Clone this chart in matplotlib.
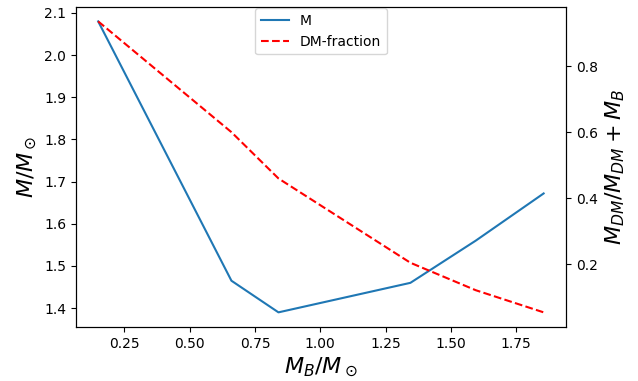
"""Mass and dark-matter fraction against baryonic mass."""

import matplotlib

matplotlib.use("Agg")
import matplotlib.pyplot as plt

mass_b = [0.15, 0.66, 0.84, 1.345, 1.595, 1.855]
mass_total = [2.08, 1.465, 1.39, 1.46, 1.56, 1.672]
dm_fraction = [0.935, 0.60, 0.46, 0.205, 0.122, 0.055]

fig, ax = plt.subplots(figsize=(6.38, 3.81), dpi=100)

line_m, = ax.plot(mass_b, mass_total, color="tab:blue", label="M")
ax.set_xlabel(r"$M_B/M_\odot$", fontsize=16)
ax.set_ylabel(r"$M/M_\odot$", fontsize=16)

ax2 = ax.twinx()
line_dm, = ax2.plot(mass_b, dm_fraction, "r--", label="DM-fraction")
ax2.set_ylabel(r"$M_{DM}/M_{DM}+M_B$", fontsize=16)

ax.legend(handles=[line_m, line_dm], loc="upper center", borderaxespad=0.1)

fig.subplots_adjust(left=0.119, right=0.887, top=0.982, bottom=0.142)
fig.savefig("out.png", dpi=100)
